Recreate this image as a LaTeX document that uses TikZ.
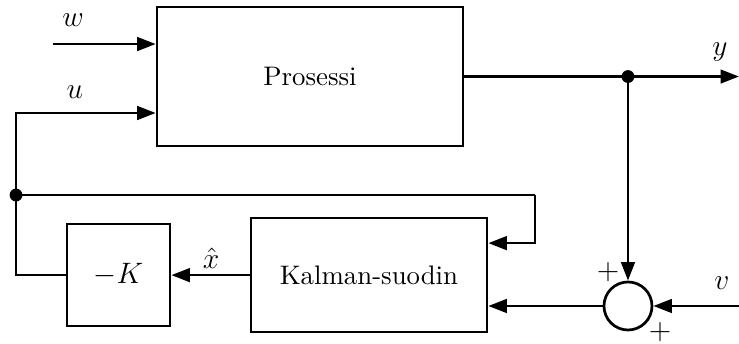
\documentclass[tikz,border=0pt]{standalone}
\usepackage{amsmath}
\usepackage{amssymb}
\usepackage{tikz}
\usetikzlibrary{calc,arrows.meta,shapes,positioning}
\tikzset{
    block/.style={
    rectangle,draw=black,line width=1.1pt,inner sep=0pt,
    font=\fontsize{10.9pt}{13pt}\selectfont
    },
    sumpoint/.style={
    circle,draw=black,line width=1.1pt,minimum size=0.686cm,inner sep=0pt
    },
    branch/.style={
    circle,draw=black,fill=black,inner sep=1.7pt
    },
    sig/.style={
    line width=1.1pt,-{Triangle[length=7.5pt,width=5.5pt]}
    },
    wire/.style={
    line width=1.1pt
    },
}

\begin{document}
\begin{tikzpicture}
  \useasboundingbox (0,0) rectangle (10.557,-4.9);

  % lohkot
  \node[block,minimum width=4.371cm,minimum height=1.986cm] (pro) at (4.429,-1.093) {Prosessi};
  \node[block,minimum width=3.371cm,minimum height=1.629cm] (kal) at (5.271,-3.93) {Kalman-suodin};
  \node[block,minimum width=1.471cm,minimum height=1.457cm] (gain) at (1.693,-3.93) {\large $-K$};
  \node[sumpoint] (sum) at (8.971,-4.371) {};

  % apupisteet
  \coordinate (win) at (0.757,-0.629);
  \coordinate (yout) at (10.557,-1.093);
  \coordinate (vin) at (10.557,-4.371);
  \coordinate (fb) at (7.643,-2.786);
  \node[branch] (usplit) at (0.229,-2.786) {};
  \node[branch] (ysplit) at (sum |- pro.east) {};

  % signaalit
  \draw[sig] (win) -- (win -| pro.west);
  \draw[sig] (gain.west) -| (usplit.center) |- ([yshift=-0.521cm]pro.west);
  \draw[wire] (usplit.center) -- (fb);
  \draw[sig] (fb) |- ([yshift=0.457cm]kal.east);
  \draw[sig] (kal.west) -- (gain.east);
  \draw[sig] (pro.east) -- (yout);
  \draw[sig] (ysplit.center) -- (sum.north);
  \draw[sig] (vin) -- (sum.east);
  \draw[sig] (sum.west) -- (sum.west -| kal.east);

  % tunnukset
  \node (lw) at (1.043,-0.286) {\large $w$};
  \node (lu) at (1.071,-1.314) {\large $u$};
  \node (ly) at (10.286,-0.743) {\large $y$};
  \node (lv) at (10.314,-4.043) {\large $v$};
  \node (lx) at (3.014,-3.686) {\large $\hat{x}$};
  \node (p1) at (8.686,-3.886) {\large $+$};
  \node (p2) at (9.429,-4.743) {\large $+$};
\end{tikzpicture}
\end{document}
